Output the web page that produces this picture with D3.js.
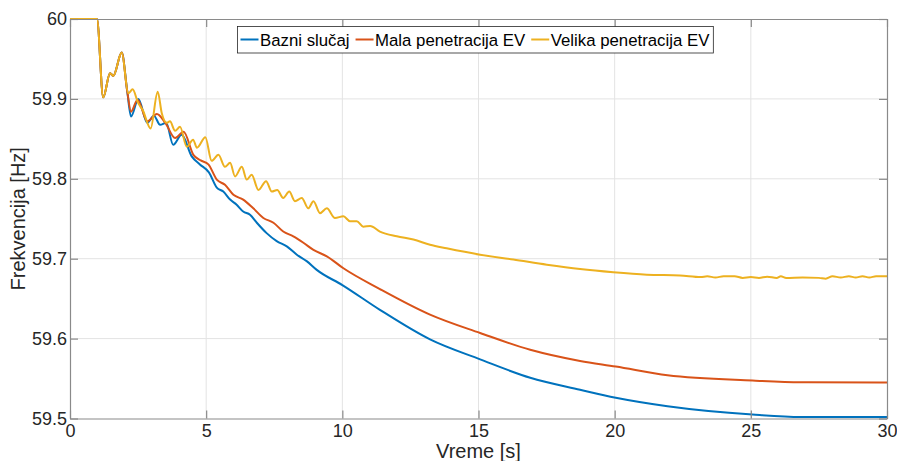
<!DOCTYPE html>
<html>
<head>
<meta charset="utf-8">
<script src="https://cdn.jsdelivr.net/npm/d3@7"></script>
<style>
  html, body { margin: 0; padding: 0; background: #fff; }
  svg { display: block; font-family: "Liberation Sans", Arial, sans-serif; }
</style>
</head>
<body>
<svg id="chart" width="897" height="461"></svg>
<script>
// ---- data ----
const seriesNames = ["Bazni slučaj", "Mala penetracija EV", "Velika penetracija EV"];
const xTicks = [0, 5, 10, 15, 20, 25, 30];
const yTicks = [59.5, 59.6, 59.7, 59.8, 59.9, 60];
const xLabel = "Vreme [s]";
const yLabel = "Frekvencija [Hz]";

// [time s, frequency Hz]
const bazni = [
  [0, 60], [0.99, 60], [1.22, 59.902], [1.47, 59.932], [1.59, 59.929], [1.90, 59.958], [2.10, 59.910],
  [2.24, 59.878], [2.51, 59.900], [2.84, 59.870], [3.08, 59.879], [3.31, 59.8675], [3.53, 59.870],
  [3.79, 59.8425], [4.10, 59.855], [4.47, 59.828], [4.77, 59.818], [5.10, 59.808], [5.39, 59.789],
  [5.63, 59.784], [5.88, 59.774], [6.12, 59.7675], [6.36, 59.759], [6.61, 59.755], [6.86, 59.745],
  [7.22, 59.732], [7.59, 59.722], [7.96, 59.7155], [8.33, 59.705], [8.69, 59.697], [9.06, 59.686],
  [10.0, 59.667], [11.38, 59.636], [13.22, 59.599], [15.06, 59.574], [16.9, 59.551], [18.73, 59.536],
  [20.04, 59.526], [21.94, 59.5154], [25.06, 59.505], [26.84, 59.502], [30, 59.502]
];
const mala = [
  [0, 60], [0.99, 60], [1.22, 59.902], [1.47, 59.932], [1.59, 59.929], [1.90, 59.958], [2.10, 59.910],
  [2.24, 59.884], [2.48, 59.899], [2.84, 59.872], [3.19, 59.881], [3.50, 59.870], [3.86, 59.851],
  [4.17, 59.859], [4.53, 59.830], [4.80, 59.823], [5.08, 59.818], [5.39, 59.799], [5.69, 59.7925],
  [6.0, 59.780], [6.36, 59.774], [6.73, 59.763], [7.10, 59.751], [7.47, 59.745], [7.83, 59.734],
  [8.20, 59.728], [8.57, 59.720], [8.94, 59.711], [9.43, 59.703], [10.04, 59.688], [11.38, 59.662],
  [13.22, 59.630], [15.06, 59.607], [16.9, 59.586], [18.73, 59.572], [20.04, 59.565], [21.94, 59.554],
  [25.06, 59.5475], [26.84, 59.5454], [30, 59.545]
];
const velika = [
  [0, 60], [0.99, 60], [1.22, 59.902], [1.47, 59.932], [1.59, 59.929], [1.90, 59.958], [2.14, 59.907],
  [2.30, 59.912], [2.50, 59.895], [2.67, 59.886], [2.96, 59.863], [3.22, 59.909], [3.37, 59.882],
  [3.55, 59.870], [3.67, 59.872], [3.86, 59.860], [4.04, 59.865], [4.29, 59.840], [4.52, 59.849],
  [4.66, 59.839], [4.97, 59.852], [5.20, 59.8225], [5.45, 59.830], [5.69, 59.815], [5.88, 59.820],
  [6.06, 59.803], [6.31, 59.815], [6.49, 59.799], [6.67, 59.805], [6.92, 59.786], [7.20, 59.797],
  [7.41, 59.784], [7.61, 59.786], [7.83, 59.776], [8.05, 59.784], [8.26, 59.772], [8.51, 59.776],
  [8.75, 59.763], [8.94, 59.772], [9.18, 59.757], [9.43, 59.763], [9.73, 59.751], [10.04, 59.753],
  [10.28, 59.747], [10.53, 59.747], [10.77, 59.740], [11.02, 59.741], [11.38, 59.734], [12.0, 59.728],
  [12.61, 59.724], [13.22, 59.7175], [13.83, 59.713], [15.06, 59.705], [16.28, 59.699], [17.51, 59.6925],
  [18.73, 59.687], [19.95, 59.683], [21.18, 59.680], [22.40, 59.679], [23.16, 59.677], [23.4, 59.678],
  [23.7, 59.6765], [24.0, 59.678], [24.4, 59.678], [24.7, 59.676], [25.0, 59.677], [25.3, 59.676],
  [25.6, 59.6775], [25.95, 59.676], [26.1, 59.678], [26.3, 59.676], [26.9, 59.6765], [27.5, 59.676],
  [27.75, 59.675], [28.0, 59.678], [28.3, 59.6765], [28.6, 59.678], [28.85, 59.6765], [29.1, 59.678],
  [29.35, 59.6765], [29.6, 59.678], [30, 59.678]
];
const seriesData = [bazni, mala, velika];
const seriesColors = ["#0072BD", "#D95319", "#EDB120"];

// ---- layout ----
const svg = d3.select("#chart");
const L = 70, R = 887, T = 19, B = 418.5;
const x = d3.scaleLinear().domain([0, 30]).range([L, R]);
const y = d3.scaleLinear().domain([59.5, 60]).range([B, T]);

// grid
const grid = svg.append("g").attr("stroke", "#e3e3e3").attr("stroke-width", 1);
grid.selectAll("line.v").data(xTicks.slice(1, -1)).join("line")
  .attr("x1", d => x(d)).attr("x2", d => x(d)).attr("y1", T).attr("y2", B);
grid.selectAll("line.h").data(yTicks.slice(1, -1)).join("line")
  .attr("y1", d => y(d)).attr("y2", d => y(d)).attr("x1", L).attr("x2", R);

// clip
svg.append("clipPath").attr("id", "clip").append("rect")
  .attr("x", L).attr("y", T - 2).attr("width", R - L).attr("height", B - T + 2);

const line = d3.line().x(d => x(d[0])).y(d => y(d[1])).curve(d3.curveMonotoneX);
const lines = svg.append("g").attr("clip-path", "url(#clip)");
seriesData.forEach((s, i) => {
  lines.append("path").datum(s)
    .attr("fill", "none").attr("stroke", seriesColors[i])
    .attr("stroke-width", 2).attr("stroke-linejoin", "round")
    .attr("d", line);
});

// axes
const axisColor = "#8a8a8a";
const textColor = "#262626";
function styleAxis(g) {
  g.select(".domain").attr("stroke", axisColor).attr("stroke-width", 1.2);
  g.selectAll(".tick line").attr("stroke", axisColor).attr("stroke-width", 1.2);
  g.selectAll(".tick text").attr("fill", textColor).style("font-size", "18px")
    .style("font-family", "'Liberation Sans', Arial, sans-serif");
}
const xAxis = svg.append("g").attr("transform", `translate(0,${B})`)
  .call(d3.axisBottom(x).tickValues(xTicks).tickSizeInner(-8).tickSizeOuter(0).tickPadding(6).tickFormat(d3.format("d")));
styleAxis(xAxis);
const yAxis = svg.append("g").attr("transform", `translate(${L},0)`)
  .call(d3.axisLeft(y).tickValues(yTicks).tickSizeInner(-8).tickSizeOuter(0).tickPadding(3).tickFormat(d => d === 60 ? "60" : d3.format(".1f")(d)));
styleAxis(yAxis);
const xTop = svg.append("g").attr("transform", `translate(0,${T})`)
  .call(d3.axisTop(x).tickValues(xTicks).tickSizeInner(-8).tickSizeOuter(0).tickFormat(""));
styleAxis(xTop);
const yRight = svg.append("g").attr("transform", `translate(${R},0)`)
  .call(d3.axisRight(y).tickValues(yTicks).tickSizeInner(-8).tickSizeOuter(0).tickFormat(""));
styleAxis(yRight);

// axis labels
svg.append("text").attr("x", (L + R) / 2).attr("y", 458).attr("text-anchor", "middle")
  .attr("fill", textColor).style("font-size", "20px").text(xLabel);
svg.append("text").attr("transform", `translate(25,${(T + B) / 2}) rotate(-90)`)
  .attr("text-anchor", "middle").attr("fill", textColor).style("font-size", "20px").text(yLabel);

// legend
const leg = svg.append("g");
const legRect = leg.append("rect").attr("x", 237.5).attr("y", 26.5).attr("height", 26.5)
  .attr("fill", "#fff").attr("stroke", "#262626").attr("stroke-width", 0.8);
let cx = 240.5;
seriesNames.forEach((name, i) => {
  leg.append("line").attr("x1", cx).attr("x2", cx + 18).attr("y1", 39.5).attr("y2", 39.5)
    .attr("stroke", seriesColors[i]).attr("stroke-width", 2);
  const t = leg.append("text").attr("x", cx + 19.5).attr("y", 45.5).attr("fill", "#000")
    .style("font-size", "16.8px").text(name);
  cx = cx + 19.5 + t.node().getComputedTextLength() + 6;
});
legRect.attr("width", cx - 237.5 - 2);
</script>
</body>
</html>
